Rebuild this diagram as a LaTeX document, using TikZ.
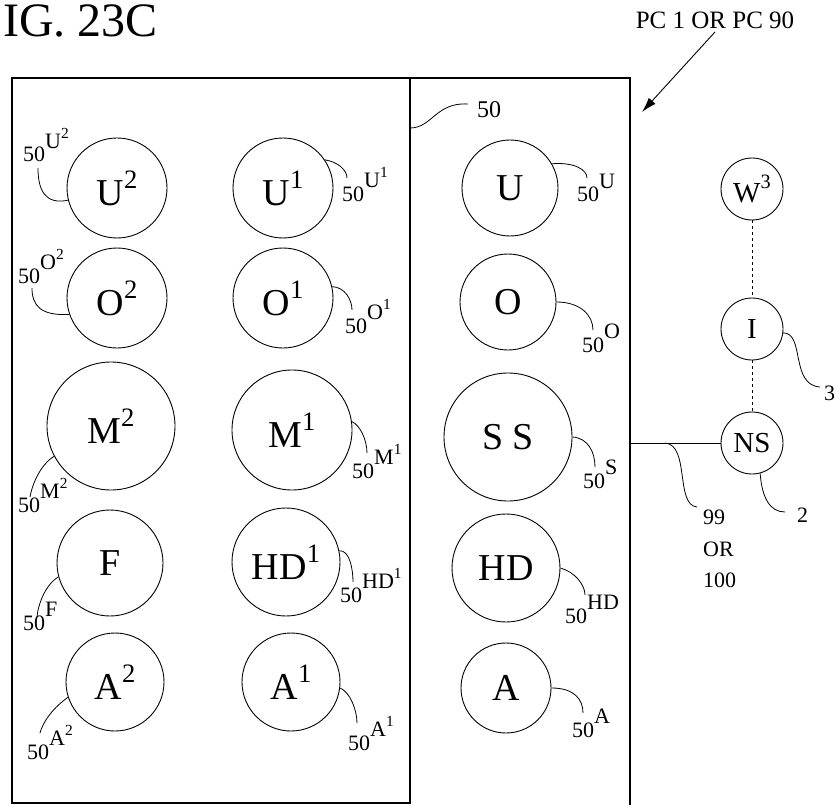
\documentclass[tikz,border=0pt]{standalone}
\usepackage{fontspec}
\setmainfont{Liberation Serif}
\usetikzlibrary{arrows.meta,positioning}
\newcommand{\upr}[1]{\raisebox{0.45em}{\scalebox{0.7}{#1}}}
\newcommand{\refnum}[1]{50\raisebox{0.6em}{#1}}

\begin{document}
\begin{tikzpicture}[x=1pt,y=-1pt]
  \tikzstyle{disc}=[circle,draw,line width=0.9pt,inner sep=0pt,font=\fontsize{38}{40}\selectfont]
  \tikzstyle{smalldisc}=[disc,minimum size=62pt,font=\fontsize{29}{32}\selectfont]
  \tikzstyle{tag}=[anchor=base west,inner sep=0pt,font=\fontsize{22}{24}\selectfont]
  \tikzstyle{lead}=[line width=0.8pt]
  \useasboundingbox (0,0) rectangle (835,805);

  \node[anchor=base west,inner sep=0pt,font=\fontsize{48}{52}\selectfont] (title) at (3,37) {IG. 23C};

  % housing
  \draw[line width=1.2pt] (12,78) rectangle (410,803);
  \draw[line width=1.2pt] (410,78) -- (630,78) -- (630,805);

  % left column
  \node[disc,minimum size=100pt] (u2) at (117,188) {U\upr{2}};
  \node[disc,minimum size=100pt] (o2) at (117,298) {O\upr{2}};
  \node[disc,minimum size=128pt] (m2) at (111,426) {M\upr{2}};
  \node[disc,minimum size=106pt] (f) at (110,563) {F};
  \node[disc,minimum size=98pt] (a2) at (115,682) {A\upr{2}};

  % middle column
  \node[disc,minimum size=100pt] (u1) at (283,188) {U\upr{1}};
  \node[disc,minimum size=100pt] (o1) at (283,298) {O\upr{1}};
  \node[disc,minimum size=120pt] (m1) at (292,430) {M\upr{1}};
  \node[disc,minimum size=108pt] (hd1) at (286,562) {HD\upr{1}};
  \node[disc,minimum size=98pt] (a1) at (291,682) {A\upr{1}};

  % right column
  \node[disc,minimum size=96pt] (u) at (510,188) {U};
  \node[disc,minimum size=96pt] (o) at (508,302) {O};
  \node[disc,minimum size=128pt] (ss) at (508,437) {S S};
  \node[disc,minimum size=108pt] (hd) at (506,568) {HD};
  \node[disc,minimum size=90pt] (a) at (506,688) {A};

  % leaders, left
  \draw[lead] (u2.194) .. controls (45,205) and (38,190) .. (38,168) coordinate (eu2);
  \draw[lead] (o2.199) .. controls (40,316) and (32,305) .. (32,288) coordinate (eo2);
  \draw[lead] (m2.208) .. controls (40,465) and (32,485) .. (30,497) coordinate (em2);
  \draw[lead] (f.195) .. controls (45,585) and (38,605) .. (37,617) coordinate (ef);
  \draw[lead] (a2.198) .. controls (50,710) and (42,725) .. (40,733) coordinate (ea2);
  \node[tag] (tu2) at (23,162) {\refnum{U\upr{2}}};
  \node[tag] (to2) at (18,283) {\refnum{O\upr{2}}};
  \node[tag] (tm2) at (18,512) {\refnum{M\upr{2}}};
  \node[tag] (tf) at (23,630) {\refnum{F}};
  \node[tag] (ta2) at (27,759) {\refnum{A\upr{2}}};

  % leaders, middle
  \draw[lead] (u1.34) .. controls (338,162) and (347,170) .. (347,178) coordinate (eu1);
  \draw[lead] (o1.13) .. controls (345,287) and (352,300) .. (352,310) coordinate (eo1);
  \draw[lead] (m1.8) .. controls (360,425) and (367,440) .. (367,453) coordinate (em1);
  \draw[lead] (hd1.12) .. controls (350,550) and (353,570) .. (353,582) coordinate (ehd1);
  \draw[lead] (a1.-7) .. controls (350,692) and (357,710) .. (357,723) coordinate (ea1);
  \node[tag] (tu1) at (342,201) {\refnum{U\upr{1}}};
  \node[tag] (to1) at (345,333) {\refnum{O\upr{1}}};
  \node[tag] (tm1) at (352,478) {\refnum{M\upr{1}}};
  \node[tag] (thd1) at (340,602) {\refnum{HD\upr{1}}};
  \node[tag] (ta1) at (348,750) {\refnum{A\upr{1}}};

  % leaders, right
  \draw[lead] (u.30) .. controls (575,162) and (587,170) .. (587,178) coordinate (eu);
  \draw[lead] (o.0) .. controls (580,302) and (593,315) .. (593,330) coordinate (eo);
  \draw[lead] (ss.0) .. controls (588,438) and (595,452) .. (595,467) coordinate (ess);
  \draw[lead] (hd.0) .. controls (575,572) and (585,585) .. (585,595) coordinate (ehd);
  \draw[lead] (a.0) .. controls (575,688) and (583,700) .. (583,713) coordinate (ea);
  \node[tag] (tu) at (577,202) {\refnum{U}};
  \node[tag] (to) at (582,352) {\refnum{O}};
  \node[tag] (tss) at (583,488) {\refnum{S}};
  \node[tag] (thd) at (565,623) {\refnum{HD}};
  \node[tag] (ta) at (572,737) {\refnum{A}};

  % housing ref
  \coordinate (hook) at (410,128);
  \draw[lead] (hook) .. controls (432,128) and (436,102) .. (468,104) coordinate (ehook);
  \node[tag,font=\fontsize{24}{26}\selectfont] (t50) at (477,118) {50};

  % pointer
  \node[font=\fontsize{25}{27}\selectfont] (pc) at (715,20) {PC 1 OR PC 90};
  \coordinate (ptip) at (642,112);
  \draw[-{Latex[length=15pt,width=9pt]},line width=0.9pt] (pc.south) -- (ptip);

  % network side
  \node[smalldisc] (w3) at (752,189) {W\upr{3}};
  \node[smalldisc] (i) at (752,329) {I};
  \node[smalldisc] (ns) at (752,443) {NS};
  \draw[lead,dashed] (w3) -- (i);
  \draw[lead,dashed] (i) -- (ns);
  \coordinate (jct) at (630,443);
  \coordinate (tap) at (665,443);
  \draw[lead] (jct) -- (ns);
  \draw[lead] (tap) .. controls (690,445) and (675,505) .. (697,507) coordinate (e99);
  \node[anchor=north west,inner sep=0pt,align=left,font=\fontsize{22}{31.5}\selectfont] (t99) at (703,510) {99\\OR\\100};
  \draw[lead] (ns.-75) .. controls (762,498) and (770,512) .. (785,512) coordinate (e2);
  \node[tag] (t2) at (797,522) {2};
  \draw[lead] (i.-7) .. controls (805,333) and (790,385) .. (820,387) coordinate (e3);
  \node[tag] (t3) at (824,400) {3};
\end{tikzpicture}
\end{document}
